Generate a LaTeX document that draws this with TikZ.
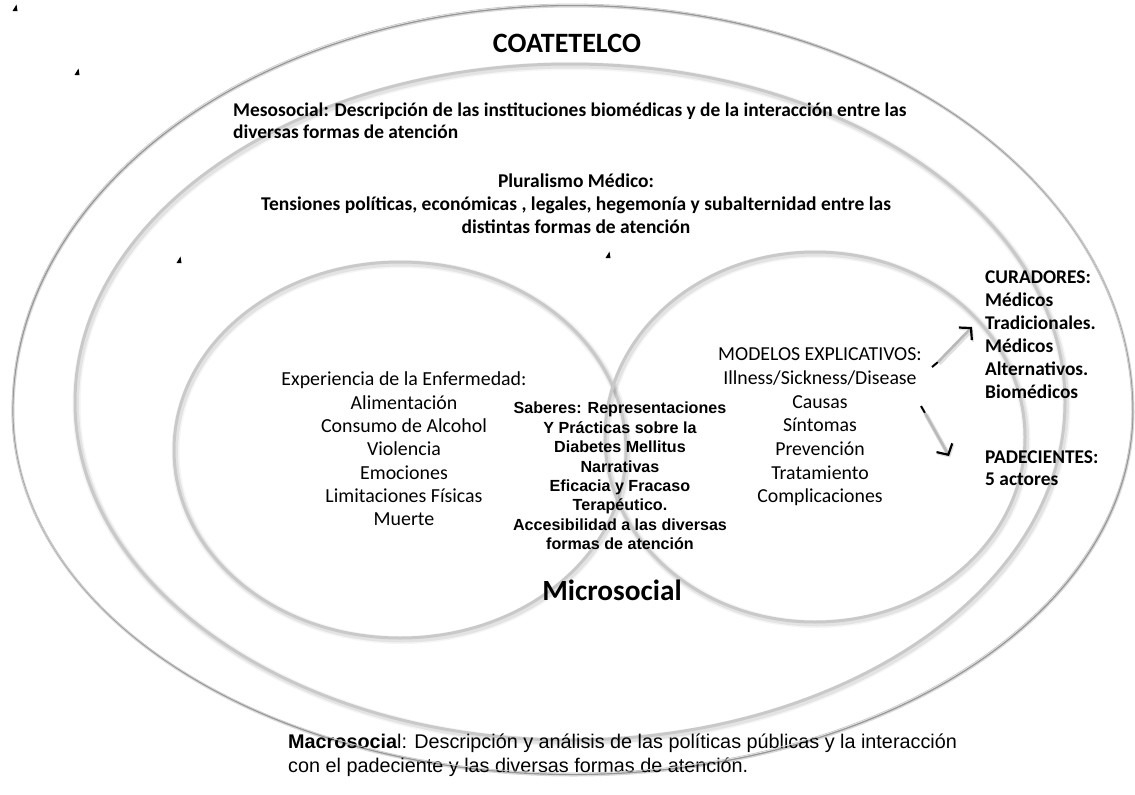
\documentclass[tikz,border=0pt]{standalone}
\usepackage{fontspec}
\setmainfont{Carlito}
\newfontfamily\arialfont{Liberation Sans}
\usetikzlibrary{arrows.meta}

\tikzset{
  % soft grey band with a faint drop shadow
  ring/.style={line width=3pt, draw=gray!42,
    preaction={draw=black, draw opacity=0.04, line width=8pt,
      transform canvas={shift={(1.5pt,-2pt)}}},
    preaction={draw=black, draw opacity=0.07, line width=5pt,
      transform canvas={shift={(1.5pt,-2pt)}}}},
  % thin outer rim with a darker shadow
  rim/.style={line width=0.8pt, draw=gray!40,
    preaction={draw=black, draw opacity=0.15, line width=3pt,
      transform canvas={shift={(1pt,-2pt)}}},
    preaction={draw=black, draw opacity=0.3, line width=1.2pt,
      transform canvas={shift={(0.8pt,-1.5pt)}}}},
  txt/.style={inner sep=0pt, text=black},
  tick/.style={fill=black},
  shaft/.style={draw=gray!55, line width=2.6pt,
    preaction={draw=black, draw opacity=0.12, line width=4.5pt,
      transform canvas={shift={(1pt,-1.5pt)}}},
    -{Straight Barb[length=8pt,width=18pt,color=black,line width=2.2pt]}},
  lead/.style={draw=black, line width=2pt}
}

\begin{document}
\begin{tikzpicture}[x=1pt,y=-1pt]
  \fill[white] (0,0) rectangle (1135,795);
  \useasboundingbox (0,0) rectangle (1135,795);

  % mesosocial ring and the two microsocial circles
  \draw[ring] (570,402) ellipse [x radius=495, y radius=338];
  \draw[ring] (400,450) ellipse [x radius=226, y radius=188];
  \draw[ring] (815,437) ellipse [x radius=210, y radius=185];

  % small black marks
  \foreach \mx/\my in {15/8, 77/72, 179/260, 608/255}
    \fill[tick] (\mx-2.5,\my+3) -- (\mx+2.5,\my+3) -- (\mx+1.5,\my-3.5) -- cycle;

  % labels
  \node[txt, font=\bfseries\fontsize{28}{32}\selectfont] (coat) at (567,43) {COATETELCO};

  \node[txt, anchor=west, align=left, font=\bfseries\fontsize{19.4}{22}\selectfont] (meso) at (233,121)
    {Mesosocial: Descripción de las instituciones biomédicas y de la interacción entre las\\
     diversas formas de atención};

  \node[txt, align=center, font=\bfseries\fontsize{19.5}{23}\selectfont] (plural) at (576,204)
    {Pluralismo Médico:\\
     Tensiones políticas, económicas , legales, hegemonía y subalternidad entre las\\
     distintas formas de atención};

  \node[txt, align=center, font=\fontsize{19.9}{23.3}\selectfont] (exper) at (404,449)
    {Experiencia de la Enfermedad:\\
     Alimentación\\ Consumo de Alcohol\\ Violencia\\ Emociones\\ Limitaciones Físicas\\ Muerte};

  \node[txt, align=center, font=\arialfont\bfseries\fontsize{16.1}{19.4}\selectfont] (saber) at (620,476)
    {Saberes: Representaciones\\ Y Prácticas sobre la\\ Diabetes Mellitus\\ Narrativas\\
     Eficacia y Fracaso\\ Terapéutico.\\ Accesibilidad a las diversas\\ formas de atención};

  \node[txt, align=center, font=\fontsize{19.8}{23.7}\selectfont] (model) at (820,427)
    {MODELOS EXPLICATIVOS:\\ Illness/Sickness/Disease\\ Causas\\ Síntomas\\ Prevención\\
     Tratamiento\\ Complicaciones};

  \node[txt, anchor=west, align=left, font=\bfseries\fontsize{19.4}{23}\selectfont] (cura) at (985,335)
    {CURADORES:\\ Médicos\\ Tradicionales.\\ Médicos\\ Alternativos.\\ Biomédicos};

  \node[txt, anchor=west, align=left, font=\bfseries\fontsize{19.4}{21.5}\selectfont] (padec) at (985,468)
    {PADECIENTES:\\ 5 actores};

  \node[txt, font=\bfseries\fontsize{29.3}{33}\selectfont] (micro) at (612,590) {Microsocial};

  \node[txt, anchor=west, align=left, font=\arialfont\fontsize{19.8}{24}\selectfont] (macro) at (288,755)
    {{\bfseries Macrosocia}l: Descripción y análisis de las políticas públicas y la interacción\\
     con el padeciente y las diversas formas de atención.};

  % arrows from the explanatory models to the actors
  \coordinate (a1s) at (932,367);
  \coordinate (a1m) at (938,362);
  \coordinate (a1e) at (972,327);
  \draw[lead] (a1s) -- (a1m);
  \draw[shaft] (a1m) -- (a1e);

  \coordinate (a2s) at (921,406);
  \coordinate (a2m) at (925,413);
  \coordinate (a2e) at (949,456);
  \draw[lead] (a2s) -- (a2m);
  \draw[shaft] (a2m) -- (a2e);

  % outer rim: flatter on top, fuller below
  \draw[rim] (12,410) arc [start angle=180, end angle=360, x radius=560, y radius=406]
                      arc [start angle=0, end angle=180, x radius=560, y radius=363] -- cycle;
\end{tikzpicture}
\end{document}
